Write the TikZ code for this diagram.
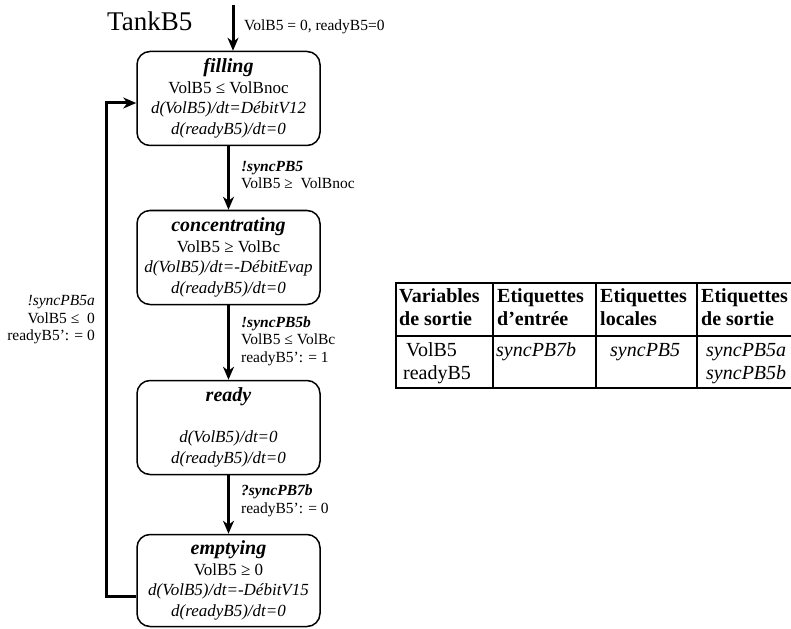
\documentclass[tikz,border=0pt]{standalone}
\usepackage{fontspec}
\setmainfont{Liberation Serif}
\usetikzlibrary{arrows.meta,calc}
\begin{document}
\begin{tikzpicture}[x=1pt,y=-1pt,
  state/.style={draw,line width=1.5pt,rounded corners=13pt,minimum width=183pt,minimum height=94pt,align=center,inner sep=0pt,font=\fontsize{17}{20.5}\selectfont},
  trans/.style={line width=3pt,-{Stealth[length=13pt,width=11pt,inset=4pt]}},
  lab/.style={anchor=west,align=left,inner sep=0pt,font=\fontsize{15.5}{17.5}\selectfont},
  labr/.style={anchor=east,align=right,inner sep=0pt,font=\fontsize{15.5}{17.5}\selectfont},
  tabtxt/.style={anchor=base west,inner sep=0pt,font=\fontsize{20}{23}\selectfont},
  tabhead/.style={tabtxt,font=\fontsize{20}{23}\selectfont\bfseries},
  tabline/.style={line width=1.3pt}
]
\newcommand{\sname}[1]{{\fontsize{20}{22}\selectfont\bfseries\itshape #1}}
\useasboundingbox (0,0) rectangle (791,628);
\clip (0,0) rectangle (791,628);

% title
\node[anchor=base west,inner sep=0pt,font=\fontsize{27}{30}\selectfont] (title) at (107,31) {TankB5};

% states
\node[state] (filling) at (228.5,98.5) {\sname{f\kern0pt illing}\\ VolB5 ≤ VolBnoc\\ \textit{d(VolB5)/dt=DébitV12}\\ \textit{d(readyB5)/dt=0}};
\node[state] (conc) at (228.5,257.5) {\sname{concentrating}\\ VolB5 ≥ VolBc\\ \textit{d(VolB5)/dt=-DébitEvap}\\ \textit{d(readyB5)/dt=0}};
\node[state] (ready) at (228.5,427.5) {\sname{ready}\\ \strut\\ \textit{d(VolB5)/dt=0}\\ \textit{d(readyB5)/dt=0}};
\node[state,minimum height=92pt] (empty) at (228.5,580.5) {\sname{emptying}\\ VolB5 ≥ 0\\ \textit{d(VolB5)/dt=-DébitV15}\\ \textit{d(readyB5)/dt=0}};

% initial arrow
\coordinate (init) at (233,5);
\draw[trans] (init) -- (init |- filling.north);
\node[lab] (l0) at (244,27) {VolB5 = 0, readyB5=0};

% transitions
\draw[trans] (filling) -- (conc);
\node[lab] (l1) at (241,175) {\textbf{\textit{!syncPB5}}\\ VolB5 ≥ \ VolBnoc};
\draw[trans] (conc) -- (ready);
\node[lab] (l2) at (241,341) {\textbf{\textit{!syncPB5b}}\\ VolB5 ≤ VolBc\\ readyB5’: = 1};
\draw[trans] (ready) -- (empty);
\node[lab] (l3) at (241,501) {\textbf{\textit{?syncPB7b}}\\ readyB5’: = 0};

% loop back
\coordinate (la) at (106,596);
\coordinate (lb) at (106,103);
\draw[trans] (empty.west |- la) -- (la) -- (lb) -- (filling.west |- lb);
\node[labr] (l4) at (95,320) {\textit{!syncPB5a}\\ VolB5 ≤ \ 0\\ readyB5’: = 0};

% table
\draw[tabline] (396,283) rectangle (805,388);
\draw[tabline] (396,336) -- (805,336);
\draw[tabline] (493,283) -- (493,388);
\draw[tabline] (596,283) -- (596,388);
\draw[tabline] (697,283) -- (697,388);

\node[tabhead] (h1a) at (399,302) {Variables};
\node[tabhead] (h1b) at (399,325) {de sortie};
\node[tabhead] (h2a) at (497,302) {Etiquettes};
\node[tabhead] (h2b) at (497,325) {d’entrée};
\node[tabhead] (h3a) at (600,302) {Etiquettes};
\node[tabhead] (h3b) at (600,325) {locales};
\node[tabhead] (h4a) at (701,302) {Etiquettes};
\node[tabhead] (h4b) at (701,325) {de sortie};

\node[tabtxt] (c1a) at (406,356) {VolB5};
\node[tabtxt] (c1b) at (403,379) {readyB5};
\node[tabtxt] (c2a) at (496,356) {\textit{syncPB7b}};
\node[tabtxt] (c3a) at (610,356) {\textit{syncPB5}};
\node[tabtxt] (c4a) at (706,356) {\textit{syncPB5a}};
\node[tabtxt] (c4b) at (706,379) {\textit{syncPB5b}};
\end{tikzpicture}
\end{document}
